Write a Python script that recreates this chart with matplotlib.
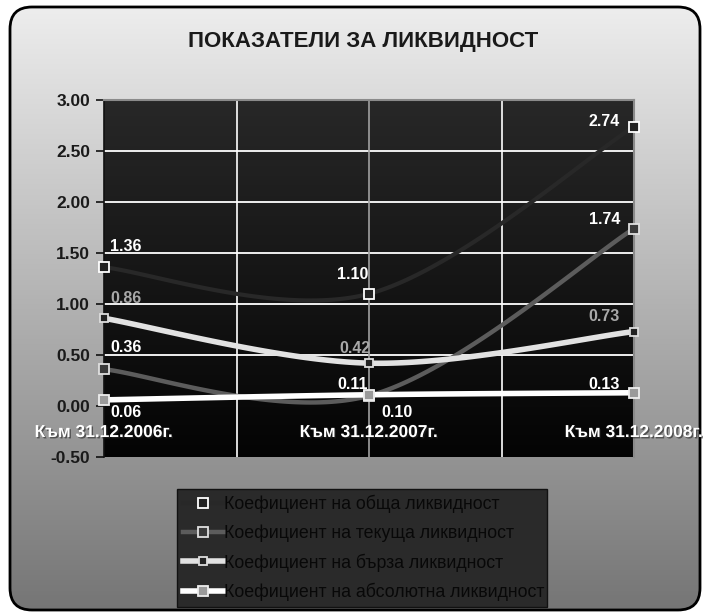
import numpy as np
import matplotlib
matplotlib.use("Agg")
import matplotlib.pyplot as plt
from matplotlib import font_manager
from matplotlib.patches import FancyBboxPatch
import matplotlib.patheffects as pe

# ---------------- data ----------------
categories = ["Към 31.12.2006г.", "Към 31.12.2007г.", "Към 31.12.2008г."]
series_names = ["Коефициент на обща ликвидност",
                "Коефициент на текуща ликвидност",
                "Коефициент на бърза ликвидност",
                "Коефициент на абсолютна ликвидност"]
obshta = [1.36, 1.10, 2.74]
tekushta = [0.36, 0.10, 1.74]
barza = [0.86, 0.42, 0.73]
absolyutna = [0.06, 0.11, 0.13]
y_ticks = [-0.5, 0.0, 0.5, 1.0, 1.5, 2.0, 2.5, 3.0]
title = "ПОКАЗАТЕЛИ ЗА ЛИКВИДНОСТ"

# ---------------- fonts ----------------
avail = {f.name for f in font_manager.fontManager.ttflist}
narrow = "Liberation Sans Narrow" if "Liberation Sans Narrow" in avail else "Liberation Sans"
FAM = [narrow, "DejaVu Sans"]
plt.rcParams["font.family"] = FAM

W, H = 705, 613
fig = plt.figure(figsize=(W / 100, H / 100), dpi=100)
fig.patch.set_facecolor("white")

# ---------------- background with rounded border ----------------
bg = fig.add_axes([0, 0, 1, 1], zorder=-10)
bg.set_xlim(0, W)
bg.set_ylim(H, 0)
bg.axis("off")
box = FancyBboxPatch((10, 7), 690, 603, boxstyle="round,pad=0,rounding_size=22",
                     facecolor="none", edgecolor="black", linewidth=2.0, zorder=3)
bg.add_patch(box)
grad = np.linspace(0, 1, 256)[:, None]
top_c, bot_c = 0.93, 0.46
img = top_c + (bot_c - top_c) * grad
im = bg.imshow(np.dstack([img, img, img]), extent=(10, 700, 610, 7), aspect="auto", zorder=1)
im.set_clip_path(box)

fig.text(363 / W, 1 - 41 / H, title, ha="center", va="center",
         fontsize=16, fontweight="bold", color="#1a1a1a", family=FAM)

# ---------------- plot area ----------------
L, R, T, B = 104, 634, 100, 457
ax = fig.add_axes([L / W, 1 - B / H, (R - L) / W, (B - T) / H])
ax.set_facecolor("none")
pg = np.linspace(0, 1, 256)[:, None]
pimg = 0.155 + (0.015 - 0.155) * pg
ax.imshow(np.dstack([pimg, pimg, pimg]), extent=(0, 2, -0.5, 3.0), aspect="auto",
          zorder=0, transform=ax.transData)
ax.set_xlim(0, 2)
ax.set_ylim(-0.5, 3.0)

for yv in y_ticks:
    if 0 < yv < 3.0:
        ax.axhline(yv, color="white", lw=1.3, zorder=1)
ax.axhline(0, color="#0a0a0a", lw=1.2, zorder=1)
for xv, col in [(0.5, "white"), (1.0, "#a0a0a0"), (1.5, "white")]:
    ax.axvline(xv, color=col, lw=1.2, zorder=1)

for s in ["top", "right"]:
    ax.spines[s].set_color("#8a8a8a")
    ax.spines[s].set_linewidth(1.5)
ax.spines["bottom"].set_visible(False)
ax.spines["left"].set_color("#111111")
ax.spines["left"].set_linewidth(1.2)
ax.set_yticks(y_ticks)
ax.set_yticklabels([f"{v:.2f}" for v in y_ticks])
ax.tick_params(axis="y", direction="out", length=6, width=1.2, color="#111111",
               labelsize=12.5, labelcolor="#1a1a1a", pad=4)
for lab in ax.get_yticklabels():
    lab.set_fontweight("bold")
ax.set_xticks([])

xs = np.arange(len(categories))


def smooth(xp, yp, n=60):
    xp = np.asarray(xp, float)
    yp = np.asarray(yp, float)
    P = np.column_stack([xp, yp])
    out = []
    for i in range(len(P) - 1):
        p0 = P[i - 1] if i > 0 else P[i]
        p1 = P[i]
        p2 = P[i + 1]
        p3 = P[i + 2] if i + 2 < len(P) else P[i + 1]
        c1 = p1 + (p2 - p0) / 6.0
        c2 = p2 - (p3 - p1) / 6.0
        t = np.linspace(0, 1, n)[:, None]
        seg = ((1 - t) ** 3) * p1 + 3 * ((1 - t) ** 2) * t * c1 + 3 * (1 - t) * t ** 2 * c2 + t ** 3 * p2
        out.append(seg if i == 0 else seg[1:])
    out = np.vstack(out)
    return out[:, 0], out[:, 1]


styles = [
    dict(data=obshta, color="#282828", lw=3.0, mfc="#222222", mec="white", ms=7),
    dict(data=tekushta, color="#5c5c5c", lw=3.2, mfc="#3a3a3a", mec="#e0e0e0", ms=7),
    dict(data=barza, color="#e2e2e2", lw=4.0, mfc="#222222", mec="#dddddd", ms=5.5),
    dict(data=absolyutna, color="white", lw=4.0, mfc="#9a9a9a", mec="#eeeeee", ms=7),
]
handles = []
for st, name in zip(styles, series_names):
    sx, sy = smooth(xs, st["data"])
    ax.plot(sx, sy, color=st["color"], lw=st["lw"], zorder=3, clip_on=False,
            solid_capstyle="butt")
    ax.plot(xs, st["data"], ls="none", marker="s", ms=st["ms"], mfc=st["mfc"],
            mec=st["mec"], mew=1.3, zorder=5, clip_on=False)
    h, = ax.plot([], [], color=st["color"], lw=st["lw"], marker="s", ms=st["ms"],
                 mfc=st["mfc"], mec=st["mec"], mew=1.3, label=name)
    handles.append(h)

# data labels: (series values, index, offset px, ha, color)
label_specs = [
    (obshta, 0, (6, 21), "left", "white"),
    (obshta, 1, (-16, 19), "center", "white"),
    (obshta, 2, (-14, 5), "right", "white"),
    (tekushta, 0, (6, 22), "left", "white"),
    (tekushta, 1, (12, -17), "left", "white"),
    (tekushta, 2, (-14, 9), "right", "white"),
    (barza, 0, (6, 20), "left", "#a8a8a8"),
    (barza, 1, (-14, 15), "center", "#a8a8a8"),
    (barza, 2, (-14, 15), "right", "#a8a8a8"),
    (absolyutna, 0, (6, -13), "left", "white"),
    (absolyutna, 1, (-16, 10), "center", "white"),
    (absolyutna, 2, (-14, 8), "right", "white"),
]
for vals, i, off, ha, col in label_specs:
    ax.annotate(f"{vals[i]:.2f}", (xs[i], vals[i]), xytext=off, textcoords="offset pixels",
                ha=ha, va="center", fontsize=11.5, fontweight="bold", color=col, zorder=6,
                annotation_clip=False)

# category labels
for i, c in enumerate(categories):
    ax.text(xs[i], -0.26, c, ha="center", va="center", fontsize=12.5, fontweight="bold",
            color="white", zorder=7, clip_on=False,
            path_effects=[pe.withSimplePatchShadow(offset=(1, -1), shadow_rgbFace="#222222", alpha=0.6)])

# legend
leg = fig.legend(handles=handles, loc="upper left",
                 bbox_to_anchor=(177 / W, 1 - 609 / H, (547 - 177) / W, (609 - 489) / H),
                 mode="expand", ncol=1, frameon=True, fancybox=False,
                 prop={"size": 12.8, "family": FAM}, handlelength=2.3, handletextpad=0.0,
                 labelspacing=0.63, borderpad=0.34, borderaxespad=0)
leg.get_frame().set_facecolor("#2a2a2a")
leg.get_frame().set_edgecolor("#111111")
leg.get_frame().set_linewidth(1.0)
leg.get_frame().set_alpha(1)
for t in leg.get_texts():
    t.set_color("#080808")

fig.savefig("out.png", dpi=100, facecolor="white")
